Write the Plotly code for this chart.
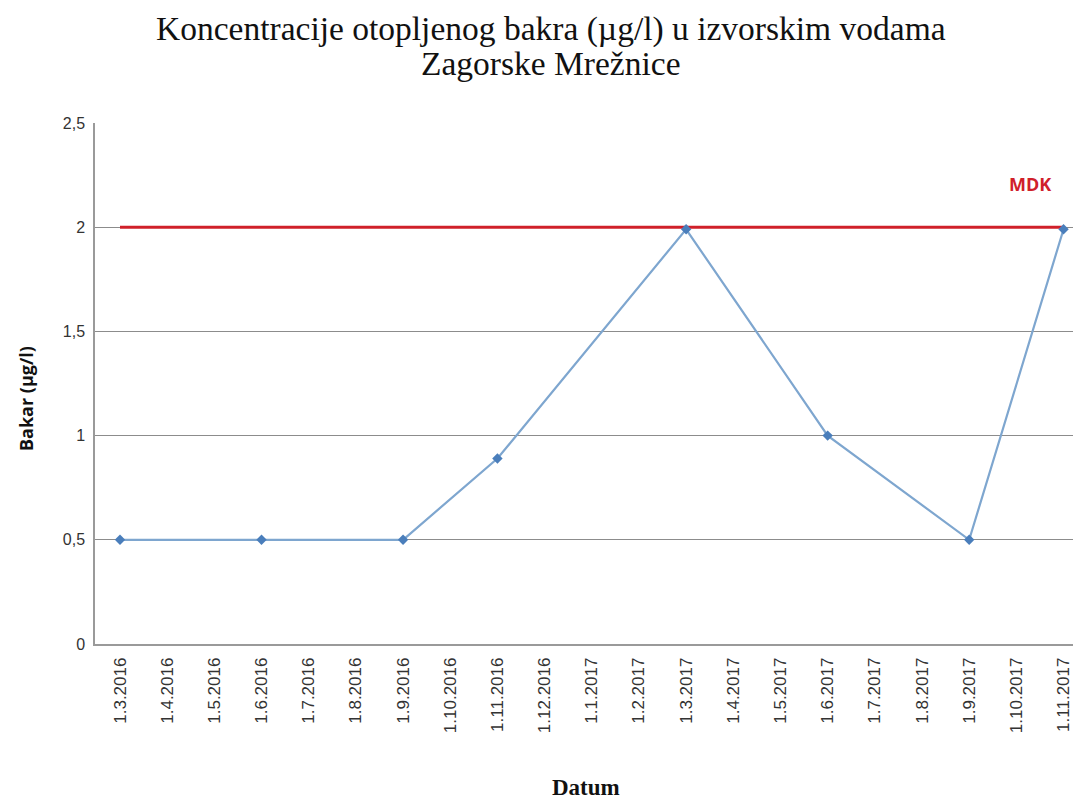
import plotly.graph_objects as go

months = ["1.3.2016", "1.4.2016", "1.5.2016", "1.6.2016", "1.7.2016", "1.8.2016",
          "1.9.2016", "1.10.2016", "1.11.2016", "1.12.2016", "1.1.2017", "1.2.2017",
          "1.3.2017", "1.4.2017", "1.5.2017", "1.6.2017", "1.7.2017", "1.8.2017",
          "1.9.2017", "1.10.2017", "1.11.2017"]
sample_dates = ["1.3.2016", "1.6.2016", "1.9.2016", "1.11.2016",
                "1.3.2017", "1.6.2017", "1.9.2017", "1.11.2017"]
copper = [0.5, 0.5, 0.5, 0.89, 1.99, 1.0, 0.5, 1.99]
mdk_value = 2
mdk_label = "MDK"
title_lines = ["Koncentracije otopljenog bakra (µg/l) u izvorskim vodama", "Zagorske Mrežnice"]
y_ticks = [0, 0.5, 1, 1.5, 2, 2.5]
y_tick_text = ["0", "0,5", "1", "1,5", "2", "2,5"]

serif = "Liberation Serif, Times New Roman, serif"
sans = "Liberation Sans, Arial, sans-serif"
bold_sans = "Open Sans, Liberation Sans, sans-serif"

fig = go.Figure()
fig.add_trace(go.Scatter(
    x=[months[0], months[-1]], y=[mdk_value, mdk_value], mode="lines",
    line=dict(color="#D0202A", width=3), hoverinfo="skip", showlegend=False))
fig.add_trace(go.Scatter(
    x=sample_dates, y=copper, mode="lines+markers",
    line=dict(color="#7EA6CF", width=2.2),
    marker=dict(symbol="diamond", size=8, color="#4A7EBB"),
    showlegend=False))

fig.add_annotation(x=19.28, y=2.207, xref="x", yref="y", text="<b>" + mdk_label + "</b>",
                   showarrow=False, font=dict(family=bold_sans, size=18, color="#D0202A"))

# title lines
fig.add_annotation(x=0.462, y=1.181, xref="paper", yref="paper", text=title_lines[0],
                   showarrow=False, xanchor="center", yanchor="middle", borderpad=0,
                   font=dict(family=serif, size=33.5, color="#111111"))
fig.add_annotation(x=0.462, y=1.115, xref="paper", yref="paper", text=title_lines[1],
                   showarrow=False, xanchor="center", yanchor="middle", borderpad=0,
                   font=dict(family=serif, size=33.5, color="#111111"))
# axis titles
fig.add_annotation(x=0.498, y=-0.2745, xref="paper", yref="paper", text="<b>Datum</b>",
                   showarrow=False, xanchor="center", yanchor="middle",
                   font=dict(family=serif, size=23, color="#111111"))
fig.add_annotation(x=-0.070, y=0.472, xref="paper", yref="paper", text="<b>Bakar (µg/l)</b>",
                   showarrow=False, xanchor="center", yanchor="middle", textangle=-90,
                   font=dict(family=bold_sans, size=18, color="#111111"))

# the page body adds an 8px offset, so the figure is sized/margined to compensate
fig.update_layout(
    width=1073, height=791,
    paper_bgcolor="white", plot_bgcolor="white",
    margin=dict(l=87, r=0, t=115, b=155),
    xaxis=dict(
        type="category", categoryorder="array", categoryarray=months,
        tickmode="array", tickvals=months, ticktext=months,
        range=[-0.53, 20.37], tickangle=-90, automargin=False,
        showgrid=False, showline=True, linecolor="#9A9A9A", linewidth=1.5,
        ticks="", ticklabelstandoff=5,
        tickfont=dict(family=sans, size=17, color="#333333"),
    ),
    yaxis=dict(
        range=[0, 2.5], tickvals=y_ticks, ticktext=y_tick_text, automargin=False,
        showgrid=True, gridcolor="#8C8C8C", gridwidth=1,
        showline=True, linecolor="#9A9A9A", linewidth=1.5,
        zeroline=False, ticks="", ticklen=0, ticklabelstandoff=5,
        tickfont=dict(family=sans, size=16, color="#333333"),
    ),
)

fig.write_html("out.html")
